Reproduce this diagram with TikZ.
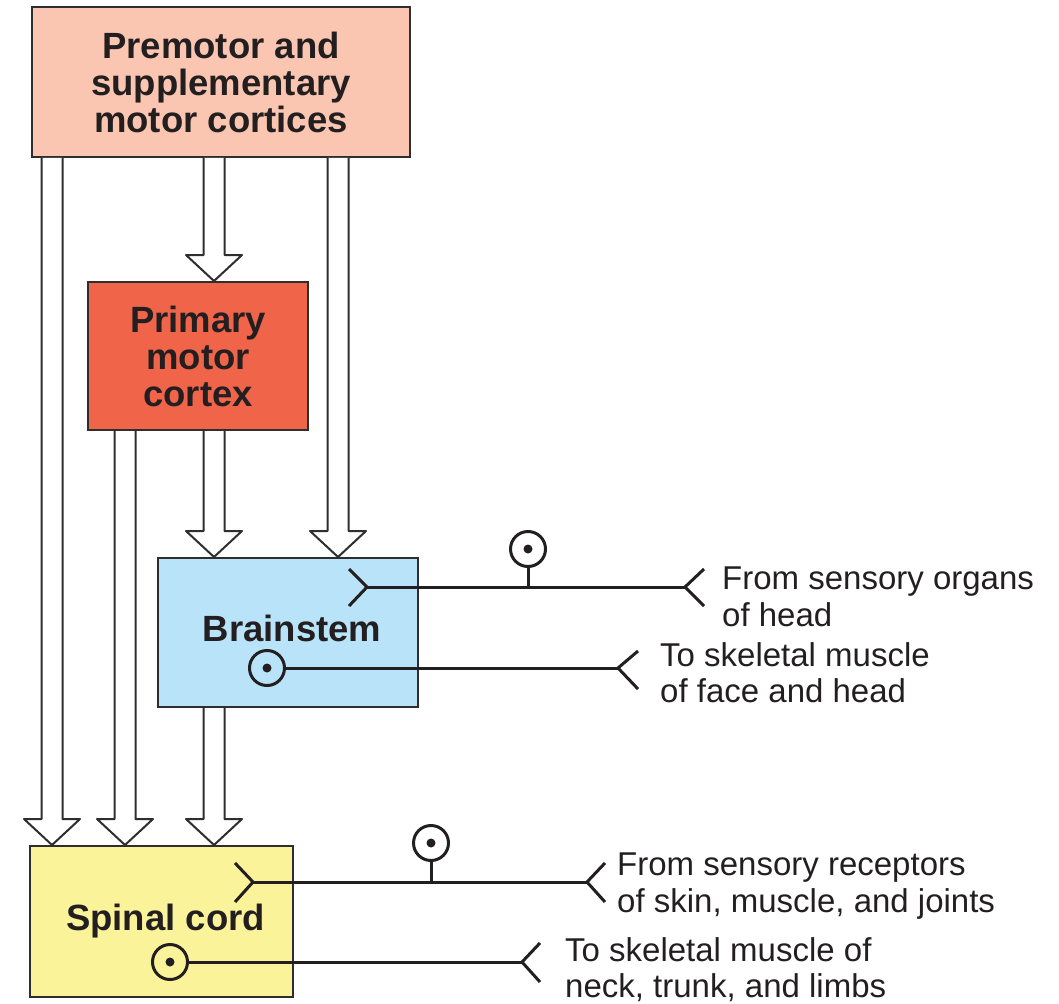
\documentclass[tikz,border=0pt]{standalone}
\usepackage{fontspec}
\setmainfont{Liberation Sans}
\usetikzlibrary{calc}

\definecolor{premotorfill}{HTML}{FAC6B1}
\definecolor{primaryfill}{HTML}{F06449}
\definecolor{brainfill}{HTML}{B9E3F8}
\definecolor{spinalfill}{HTML}{FBF39A}
\definecolor{ink}{HTML}{231F20}
\definecolor{edge}{HTML}{2E2E2E}

% Broad hollow arrow from the bottom of box #2 to the top of box #3, shaft centred at x = #1
\newcommand\feedarrow[3]{%
  \draw[hollow] ($(#1,0 |- #2.south)+(-10.5,0)$)
     -- ($(#1,0 |- #3.north)+(-10.5,-26)$)
     -- ($(#1,0 |- #3.north)+(-28,-26)$)
     -- (#1,0 |- #3.north)
     -- ($(#1,0 |- #3.north)+(28,-26)$)
     -- ($(#1,0 |- #3.north)+(10.5,-26)$)
     -- ($(#1,0 |- #2.south)+(10.5,0)$);}

\begin{document}
\begin{tikzpicture}[x=1pt,y=-1pt,
  box/.style={draw=edge, line width=2pt, inner sep=0pt, text=ink, align=center,
    font=\fontsize{36.5}{37}\selectfont\bfseries},
  hollow/.style={draw=edge, fill=white, line width=2pt, line join=round},
  nerve/.style={draw=ink, line width=3pt},
  soma/.style={circle, draw=ink, line width=3pt, minimum size=35pt, inner sep=0pt},
  note/.style={anchor=north west, inner sep=0pt, align=left, text=ink,
    font=\fontsize{33}{36.5}\selectfont}]

\useasboundingbox (0,0) rectangle (1059,1003);

% the four levels of the motor hierarchy
\node[box, fill=premotorfill, minimum width=378pt, minimum height=150pt] (pm) at (221,82)
  {Premotor and\\supplementary\\motor cortices};
\node[box, fill=primaryfill, minimum width=220pt, minimum height=148pt] (m1) at (198,356)
  {Primary\\motor\\cortex};
\node[box, fill=brainfill, minimum width=260pt, minimum height=149pt, text depth=8pt] (bs) at (288,632.5)
  {\hspace*{8pt}Brainstem};
\node[box, fill=spinalfill, minimum width=263pt, minimum height=151pt] (sc) at (161.5,921.5)
  {\hspace*{8pt}Spinal cord};

% descending pathways
\feedarrow{52}{pm}{sc}
\feedarrow{214}{pm}{m1}
\feedarrow{338}{pm}{bs}
\feedarrow{125}{m1}{sc}
\feedarrow{214}{m1}{bs}
\feedarrow{214}{bs}{sc}

% brainstem: sensory input and motor output
\coordinate (bsIn) at (367,587);
\coordinate (bsFrom) at (685,587);
\node[soma] (bsGang) at (528,549) {};
\fill[ink] (bsGang.center) circle (4.5pt);
\draw[nerve] ($(bsIn)+(-18,-18)$) -- (bsIn) -- ($(bsIn)+(-18,19)$);
\draw[nerve] (bsIn) -- (bsFrom);
\draw[nerve] ($(bsFrom)+(19,-18)$) -- (bsFrom) -- ($(bsFrom)+(19,19)$);
\draw[nerve] (bsGang.south) -- (bsGang.south |- bsIn);

\node[soma] (bsMot) at (267,668) {};
\fill[ink] (bsMot.center) circle (4.5pt);
\coordinate (bsTo) at (618,668);
\draw[nerve] (bsMot.east) -- (bsTo);
\draw[nerve] ($(bsTo)+(20,-17)$) -- (bsTo) -- ($(bsTo)+(20,21)$);

\node[note] (bsFromTxt) at (722,567) {From sensory organs\\of head};
\node[note] (bsToTxt) at (660,642) {To skeletal muscle\\of face and head};

% spinal cord: sensory input and motor output
\coordinate (scIn) at (253,882);
\coordinate (scFrom) at (587,882);
\node[soma] (scGang) at (431,843) {};
\fill[ink] (scGang.center) circle (4.5pt);
\draw[nerve] ($(scIn)+(-18,-19)$) -- (scIn) -- ($(scIn)+(-18,20)$);
\draw[nerve] (scIn) -- (scFrom);
\draw[nerve] ($(scFrom)+(18,-19)$) -- (scFrom) -- ($(scFrom)+(18,20)$);
\draw[nerve] (scGang.south) -- (scGang.south |- scIn);

\node[soma] (scMot) at (170,962) {};
\fill[ink] (scMot.center) circle (4.5pt);
\coordinate (scTo) at (522,962);
\draw[nerve] (scMot.east) -- (scTo);
\draw[nerve] ($(scTo)+(18,-19)$) -- (scTo) -- ($(scTo)+(18,20)$);

\node[note] (scFromTxt) at (617,853) {From sensory receptors\\of skin, muscle, and joints};
\node[note] (scToTxt) at (565,937) {To skeletal muscle of\\neck, trunk, and limbs};

\end{tikzpicture}
\end{document}
